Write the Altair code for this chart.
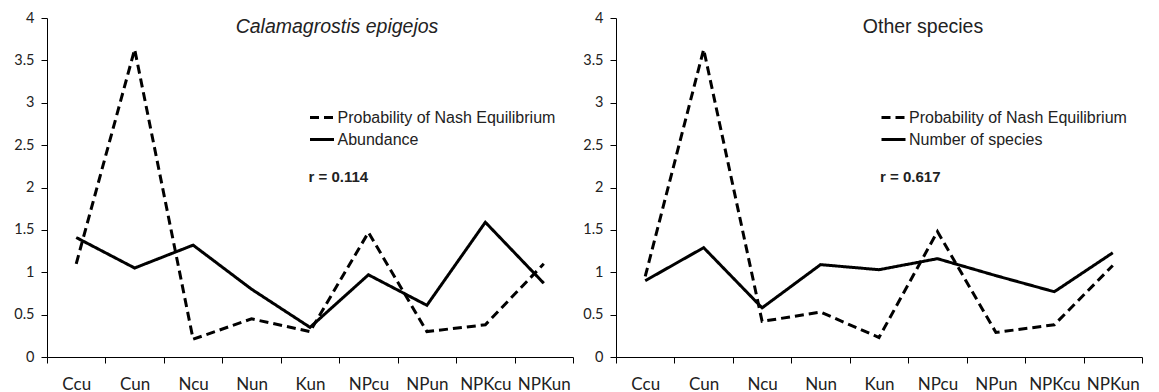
import altair as alt
import pandas as pd

categories = ["Ccu", "Cun", "Ncu", "Nun", "Kun", "NPcu", "NPun", "NPKcu", "NPKun"]

nash_label = "Probability of Nash Equilibrium"

left_title = "Calamagrostis epigejos"
left_other_label = "Abundance"
left_nash = [1.10, 3.63, 0.21, 0.45, 0.30, 1.47, 0.30, 0.38, 1.10]
left_abundance = [1.41, 1.05, 1.32, 0.80, 0.35, 0.97, 0.61, 1.59, 0.87]
left_r = "r = 0.114"

right_title = "Other species"
right_other_label = "Number of species"
right_nash = [0.95, 3.63, 0.42, 0.53, 0.23, 1.48, 0.29, 0.38, 1.08]
right_species = [0.90, 1.29, 0.58, 1.09, 1.03, 1.16, 0.96, 0.77, 1.23]
right_r = "r = 0.617"

y_ticks = [0, 0.5, 1, 1.5, 2, 2.5, 3, 3.5, 4]

TEXT = "#222222"
W, H = 526, 339


def panel(title, italic, other_label, nash, other, r_text, title_x, legend_x):
    df = pd.DataFrame({
        "cat": categories * 2,
        "series": [nash_label] * len(categories) + [other_label] * len(categories),
        "value": nash + other,
    })
    lines = alt.Chart(df).mark_line(color="black", strokeWidth=3).encode(
        x=alt.X(
            "cat:N", sort=categories, bandPosition=0.5,
            scale=alt.Scale(type="band", paddingInner=0, paddingOuter=0),
            axis=alt.Axis(title=None, tickBand="extent", labelAngle=0, labelFont="Lato",
                          labelFontSize=17, labelColor=TEXT, tickSize=6, labelPadding=13,
                          domainColor="black", tickColor="black", grid=False),
        ),
        y=alt.Y(
            "value:Q", scale=alt.Scale(domain=[0, 4], nice=False),
            axis=alt.Axis(title=None, values=y_ticks, format="~g", labelFont="Lato",
                          labelFontSize=14.5, labelColor=TEXT, tickSize=6, labelPadding=7,
                          domainColor="black", tickColor="black", grid=False),
        ),
        strokeDash=alt.StrokeDash(
            "series:N",
            scale=alt.Scale(domain=[nash_label, other_label], range=[[9, 5], [1, 0]]),
            legend=alt.Legend(title=None, orient="none", legendX=legend_x, legendY=86,
                              symbolType="stroke", symbolSize=576, symbolStrokeWidth=3,
                              symbolStrokeColor="black", labelFont="Liberation Sans",
                              labelFontSize=16, labelColor=TEXT, labelOffset=2,
                              labelLimit=0, rowPadding=-1, padding=0),
        ),
    )
    t = alt.Chart(pd.DataFrame({"t": [title]})).mark_text(
        font="Liberation Sans", fontSize=19.5, fontStyle="italic" if italic else "normal",
        align="center", baseline="middle", color=TEXT,
    ).encode(text="t:N", x=alt.value(title_x), y=alt.value(9))
    r = alt.Chart(pd.DataFrame({"t": [r_text]})).mark_text(
        font="Liberation Sans", fontSize=15, fontWeight="bold",
        align="left", baseline="middle", color=TEXT,
    ).encode(text="t:N", x=alt.value(legend_x), y=alt.value(159))
    return alt.layer(lines, t, r).properties(width=W, height=H)


left = panel(left_title, True, left_other_label, left_nash, left_abundance, left_r, 290, 261.5)
right = panel(right_title, False, right_other_label, right_nash, right_species, right_r, 307, 264)

chart = (
    alt.hconcat(left, right, spacing=8)
    .resolve_scale(strokeDash="independent")
    .resolve_legend(strokeDash="independent")
    .properties(padding={"left": 5, "top": 2, "right": 0, "bottom": 0})
    .configure_view(stroke=None)
)

chart.save("out.html", embed_options={"renderer": "svg", "actions": False})
